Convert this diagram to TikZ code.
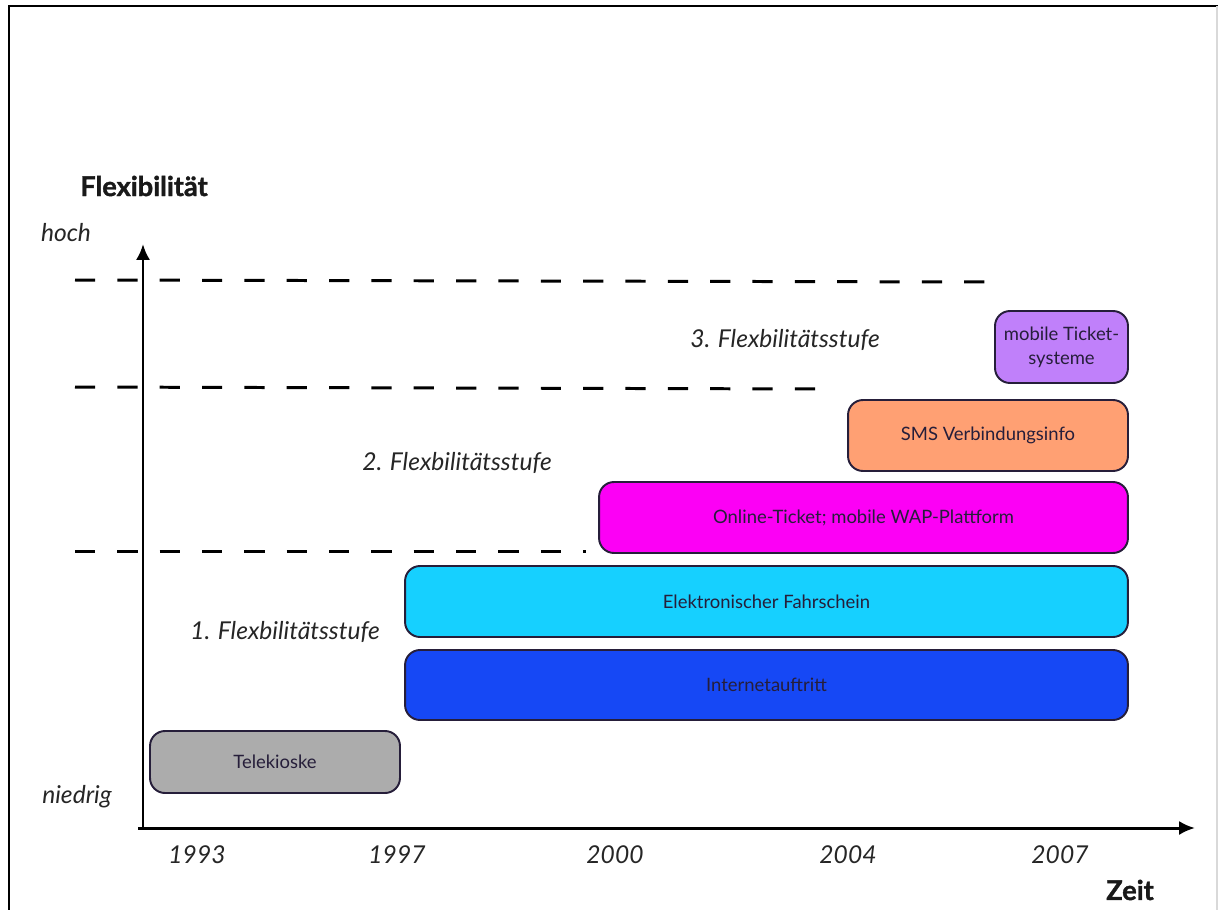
\documentclass[tikz,border=0pt]{standalone}
\usepackage{fontspec}
\setmainfont{Lato}
\newfontfamily\heavyfont{Lato}[BoldFeatures={FakeBold=1.4}]
\usepackage{tikz}
\usetikzlibrary{arrows.meta,positioning}
\definecolor{ticketcolor}{RGB}{192,128,250}
\definecolor{smscolor}{RGB}{255,160,115}
\definecolor{onlinecolor}{RGB}{252,0,245}
\definecolor{fahrcolor}{RGB}{22,208,255}
\definecolor{netcolor}{RGB}{22,72,245}
\definecolor{kioskcolor}{RGB}{172,172,172}
\definecolor{inkcolor}{RGB}{38,30,58}
\newcommand{\axiswidth}{1.7pt}

\begin{document}
\begin{tikzpicture}[x=0.02cm,y=-0.02cm,
  bar/.style={draw=inkcolor,line width=1.1pt,rounded corners=8.5pt,text=inkcolor,
    font=\fontsize{10.5}{13.5}\selectfont,align=center,inner sep=0pt},
  border/.style={line width=\axiswidth,dash pattern=on 11.5pt off 12.6pt},
  level/.style={font=\itshape\fontsize{14}{16}\selectfont,text=black!85},
  year/.style={font=\itshape\fontsize{14}{16}\selectfont,text=black!85},
  axistitle/.style={font=\heavyfont\bfseries\fontsize{15.5}{18}\selectfont,text=black!90}]
\useasboundingbox (0,0) rectangle (1218,910);
% frame
\draw[line width=1.4pt] (9,910) -- (9,6) -- (1218,6);
\draw[black!15,line width=0.6pt] (1217,6) -- (1217,910);
% dashed level borders
\draw[border] (75,280) -- (990,282);
\draw[border] (75,387) -- (822,389);
\draw[border] (75,551) -- (586,551);
% axes
\coordinate (origin) at (143,828);
\coordinate (ytip) at (143,244);
\coordinate (xtip) at (1195,828);
\draw[line width=\axiswidth,-{Latex[length=9pt,width=8pt]}] (origin) -- (ytip);
\draw[line width=\axiswidth,-{Latex[length=9pt,width=8pt]}] (138,828) -- (xtip);
% axis texts
\node[axistitle] (flex) at (144,186) {Flexibilität};
\node[axistitle] (zeit) at (1130,890) {Zeit};
\node[level] (hoch) at (66,233) {hoch};
\node[level] (niedrig) at (77,797) {niedrig};
\node[year] (y1993) at (197,855) {1993};
\node[year] (y1997) at (397,855) {1997};
\node[year] (y2000) at (615,855) {2000};
\node[year] (y2004) at (848,855) {2004};
\node[year] (y2007) at (1060,855) {2007};
% levels
\node[level] (stufe3) at (785,340) {3. Flexbilitätsstufe};
\node[level] (stufe2) at (457,463) {2. Flexbilitätsstufe};
\node[level] (stufe1) at (285,632) {1. Flexbilitätsstufe};
% bars
\node[bar,fill=ticketcolor,minimum width=2.66cm,minimum height=1.44cm] (ticket) at (1061.5,347) {mobile Ticket-\\systeme};
\node[bar,fill=smscolor,minimum width=5.6cm,minimum height=1.42cm] (sms) at (988,435.5) {SMS Verbindungsinfo};
\node[bar,fill=onlinecolor,minimum width=10.58cm,minimum height=1.42cm] (online) at (863.5,517.5) {Online-Ticket; mobile WAP-Plattform};
\node[bar,fill=fahrcolor,minimum width=14.46cm,minimum height=1.42cm] (fahr) at (766.5,601.5) {Elektronischer Fahrschein};
\node[bar,fill=netcolor,minimum width=14.46cm,minimum height=1.40cm] (net) at (766.5,685) {Internetauftritt};
\node[bar,fill=kioskcolor,minimum width=5.0cm,minimum height=1.24cm] (kiosk) at (275,762) {Telekioske};
\end{tikzpicture}
\end{document}
